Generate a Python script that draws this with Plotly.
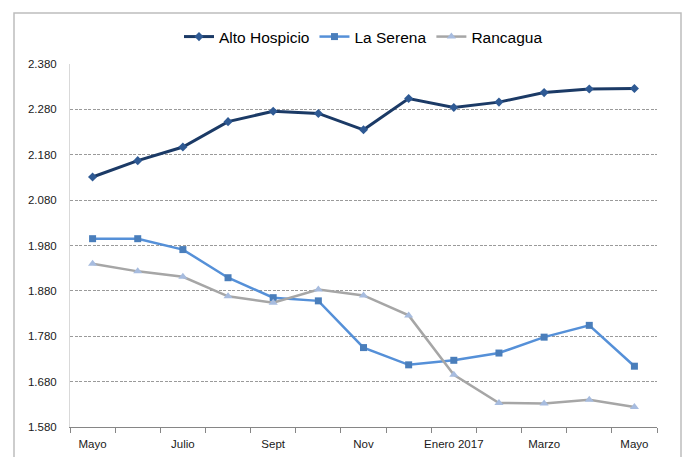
import plotly.graph_objects as go

months = ["Mayo", "Junio", "Julio", "Agosto", "Sept", "Oct", "Nov", "Dic",
          "Enero 2017", "Feb", "Marzo", "Abril", "Mayo 2017"]
tick_labels = ["Mayo", "Julio", "Sept", "Nov", "Enero 2017", "Marzo", "Mayo"]

alto_hospicio = [2131, 2167, 2197, 2253, 2276, 2271, 2235, 2304, 2284, 2296, 2317, 2325, 2326]
la_serena = [1995, 1995, 1971, 1909, 1865, 1858, 1755, 1717, 1727, 1743, 1778, 1804, 1714]
rancagua = [1940, 1923, 1911, 1868, 1854, 1883, 1870, 1826, 1695, 1633, 1632, 1640, 1624]

x = list(range(len(months)))
FONT = "Liberation Sans Narrow, Arial Narrow, Liberation Sans, Arial, sans-serif"

fig = go.Figure()
fig.add_trace(go.Scatter(
    x=x, y=alto_hospicio, name="Alto Hospicio", mode="lines+markers",
    line=dict(color="#1B3A66", width=3),
    marker=dict(symbol="diamond", size=7, color="#2F5A94"),
    customdata=months))
fig.add_trace(go.Scatter(
    x=x, y=la_serena, name="La Serena", mode="lines+markers",
    line=dict(color="#5590D8", width=2.5),
    marker=dict(symbol="square", size=7, color="#4A7EBB"),
    customdata=months))
fig.add_trace(go.Scatter(
    x=x, y=rancagua, name="Rancagua", mode="lines+markers",
    line=dict(color="#A6A6A6", width=2.5),
    marker=dict(symbol="triangle-up", size=8, color="#A7BCDF"),
    customdata=months))

L, R, T, B = 70, 30, 64, 30
W, H = 687, 457
pw, ph = W - L - R, H - T - B

fig.update_layout(
    width=W, height=H,
    margin=dict(l=L, r=R, t=T, b=B, pad=0, autoexpand=False),
    paper_bgcolor="white", plot_bgcolor="white",
    separators=",.",
    font=dict(family=FONT, size=12, color="#1a1a1a"),
    showlegend=True,
    legend=dict(orientation="h", x=0.5, xanchor="center",
                y=(H - B - 37) / ph, yanchor="middle",
                font=dict(family=FONT, size=15.5, color="#000000"),
                itemwidth=30, traceorder="normal",
                bgcolor="rgba(0,0,0,0)"),
    xaxis=dict(
        range=[-0.5, 12.5], tickmode="array", automargin=False,
        tickvals=[0, 2, 4, 6, 8, 10, 12], ticktext=tick_labels,
        ticks="", showgrid=False, zeroline=False,
        showline=True, linecolor="#868686", linewidth=1,
        ticklabelstandoff=6,
        tickfont=dict(family=FONT, size=11.5, color="#1a1a1a"),
        minor=dict(tick0=-0.5, dtick=1, ticks="outside", ticklen=5,
                   tickcolor="#868686", tickwidth=1, showgrid=False),
    ),
    yaxis=dict(
        range=[1580, 2380], tickmode="linear", tick0=1580, dtick=100,
        tickformat=",d", ticks="", zeroline=False, automargin=False,
        showgrid=True, gridcolor="#9A9A9A", griddash="3px,1.5px", gridwidth=1,
        showline=True, linecolor="#D9D9D9", linewidth=1,
        ticklabelstandoff=10,
        tickfont=dict(family=FONT, size=11.5, color="#1a1a1a"),
    ),
)

# outer chart frame
fig.add_shape(type="rect", xref="paper", yref="paper",
              x0=(14 - L) / pw, x1=(681 - L) / pw,
              y0=(H - B - 470) / ph, y1=(H - B - 13) / ph,
              line=dict(color="#BDBDBD", width=1.5), layer="below")

fig.write_html("out.html", config={"displayModeBar": False},
               post_script="document.body.style.margin='0';document.body.style.overflow='hidden';")
